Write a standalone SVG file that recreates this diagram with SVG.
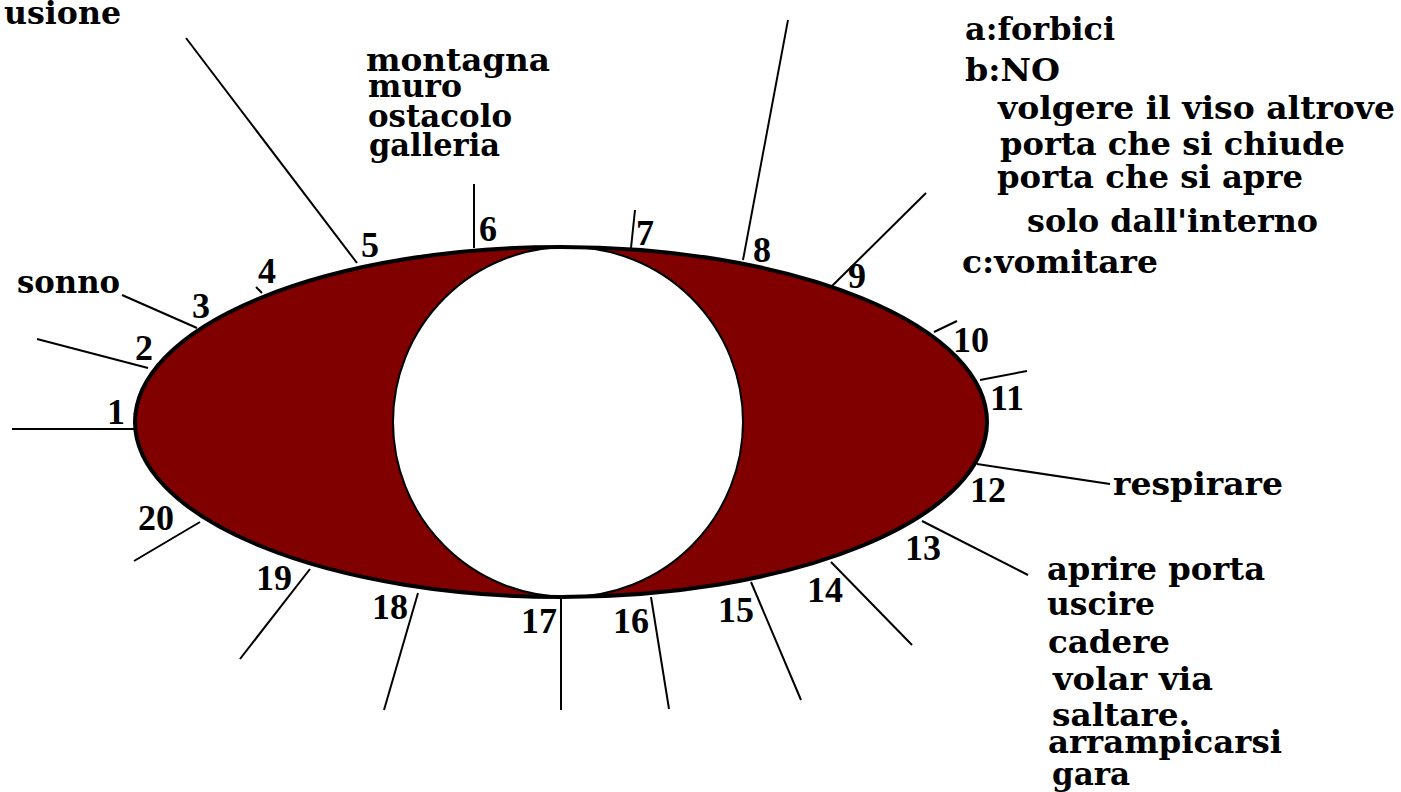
<svg xmlns="http://www.w3.org/2000/svg" width="1401" height="792" viewBox="0 0 1401 792">
<style>
.w{font-family:"DejaVu Serif","Liberation Serif",serif;font-weight:bold;font-size:32px;fill:#000}
.n{font-family:"Liberation Serif","Times New Roman",serif;font-weight:bold;font-size:36px;fill:#000}
.sp line{stroke:#000;stroke-width:2}
</style>
<defs>
<clipPath id="ec"><ellipse cx="561" cy="422" rx="426" ry="175"/></clipPath>
</defs>
<rect width="1401" height="792" fill="#fff"/>
<g id="eye">
<ellipse cx="561" cy="422" rx="426" ry="175" fill="#800000"/>
<circle cx="568" cy="422" r="175" fill="#fff" stroke="#000" stroke-width="2" clip-path="url(#ec)"/>
<ellipse cx="561" cy="422" rx="426" ry="175" fill="none" stroke="#000" stroke-width="4"/>
</g>
<g id="connectors" class="sp">
<line x1="12" y1="429" x2="134" y2="429"/>
<line x1="37" y1="339" x2="148" y2="368"/>
<line x1="122" y1="295" x2="197" y2="328"/>
<line x1="256" y1="287" x2="262" y2="293"/>
<line x1="186" y1="38" x2="357" y2="263"/>
<line x1="474" y1="184" x2="474" y2="248"/>
<line x1="635" y1="210" x2="631" y2="248"/>
<line x1="788" y1="20" x2="743" y2="260"/>
<line x1="926" y1="193" x2="831" y2="287"/>
<line x1="934" y1="332" x2="957" y2="321"/>
<line x1="980" y1="380" x2="1027" y2="371"/>
<line x1="977" y1="464" x2="1110" y2="484"/>
<line x1="922" y1="521" x2="1028" y2="575"/>
<line x1="831" y1="562" x2="912" y2="645"/>
<line x1="751" y1="582" x2="801" y2="700"/>
<line x1="651" y1="597" x2="669" y2="709"/>
<line x1="561" y1="598" x2="561" y2="710"/>
<line x1="418" y1="593" x2="384" y2="710"/>
<line x1="310" y1="569" x2="240" y2="659"/>
<line x1="200" y1="522" x2="134" y2="561"/>
</g>
<g id="numbers" class="n">
<text id="n1" x="107" y="424">1</text>
<text id="n2" x="135" y="360">2</text>
<text id="n3" x="192" y="318">3</text>
<text id="n4" x="258" y="283">4</text>
<text id="n5" x="361" y="257">5</text>
<text id="n6" x="479" y="241">6</text>
<text id="n7" x="636" y="245">7</text>
<text id="n8" x="753" y="262">8</text>
<text id="n9" x="848" y="288">9</text>
<text id="n10" x="953" y="352">10</text>
<text id="n11" x="990" y="410">11</text>
<text id="n12" x="970" y="502">12</text>
<text id="n13" x="905" y="560">13</text>
<text id="n14" x="807" y="602">14</text>
<text id="n15" x="718" y="622">15</text>
<text id="n16" x="613" y="633">16</text>
<text id="n17" x="521" y="633">17</text>
<text id="n18" x="372" y="619">18</text>
<text id="n19" x="256" y="590">19</text>
<text id="n20" x="138" y="530">20</text>
</g>
<g id="labels" class="w">
<text x="4" y="24" textLength="117" lengthAdjust="spacingAndGlyphs">usione</text>
<text x="17" y="293" textLength="103" lengthAdjust="spacingAndGlyphs">sonno</text>
<text x="366" y="71" textLength="184" lengthAdjust="spacingAndGlyphs">montagna</text>
<text x="368" y="97" textLength="94" lengthAdjust="spacingAndGlyphs">muro</text>
<text x="368" y="127" textLength="144" lengthAdjust="spacingAndGlyphs">ostacolo</text>
<text x="369" y="156" textLength="131" lengthAdjust="spacingAndGlyphs">galleria</text>
<text x="965" y="40" textLength="150" lengthAdjust="spacingAndGlyphs">a:forbici</text>
<text x="965" y="81" textLength="95" lengthAdjust="spacingAndGlyphs">b:NO</text>
<text x="998" y="119" textLength="397" lengthAdjust="spacingAndGlyphs">volgere il viso altrove</text>
<text x="1000" y="155" textLength="345" lengthAdjust="spacingAndGlyphs">porta che si chiude</text>
<text x="997" y="188" textLength="306" lengthAdjust="spacingAndGlyphs">porta che si apre</text>
<text x="1027" y="232" textLength="291" lengthAdjust="spacingAndGlyphs">solo dall'interno</text>
<text x="962" y="273" textLength="196" lengthAdjust="spacingAndGlyphs">c:vomitare</text>
<text x="1113" y="495" textLength="170" lengthAdjust="spacingAndGlyphs">respirare</text>
<text x="1047" y="580" textLength="218" lengthAdjust="spacingAndGlyphs">aprire porta</text>
<text x="1047" y="615" textLength="108" lengthAdjust="spacingAndGlyphs">uscire</text>
<text x="1048" y="653" textLength="122" lengthAdjust="spacingAndGlyphs">cadere</text>
<text x="1053" y="690" textLength="160" lengthAdjust="spacingAndGlyphs">volar via</text>
<text x="1052" y="726" textLength="138" lengthAdjust="spacingAndGlyphs">saltare.</text>
<text x="1048" y="753" textLength="234" lengthAdjust="spacingAndGlyphs">arrampicarsi</text>
<text x="1052" y="785" textLength="78" lengthAdjust="spacingAndGlyphs">gara</text>
</g>
</svg>
